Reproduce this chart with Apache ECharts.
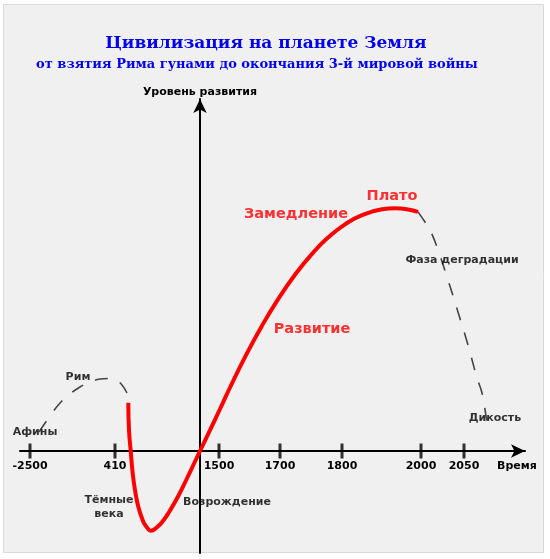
<!DOCTYPE html>
<html>
<head>
<meta charset="utf-8">
<script src="https://cdn.jsdelivr.net/npm/echarts@6/dist/echarts.min.js"></script>
<style>
html,body{margin:0;padding:0;background:#ffffff;}
#chart{width:550px;height:559px;}
</style>
</head>
<body>
<div id="chart"></div>
<script>
// Schematic time scale (abstract units, origin = Renaissance) and development level
const titleText = "Цивилизация на планете Земля";
const subtitleText = "от взятия Рима гунами до окончания 3-й мировой войны";
const xAxisName = "Время";
const yAxisName = "Уровень развития";

// Tick positions on the schematic time axis and their year labels
const tickPositions = [-170, -85, 19, 80, 142, 221, 264];
const tickLabels = ["-2500", "410", "1500", "1700", "1800", "2000", "2050"];

// Antiquity (dashed): Athens -> Rome
const antiquityCurve = [
  [-161, 19], [-150, 35], [-140, 48], [-130, 57], [-120, 64], [-110, 69],
  [-100, 72], [-92, 72.5], [-84, 71], [-78, 66], [-73, 58]
];

// Main (red) curve: Dark Ages -> Renaissance -> Development -> Plateau
const mainCurve = [
  [-71.7, 48.3], [-71, 21], [-69.3, 0.3], [-67.3, -22.3], [-65, -39],
  [-61.7, -55.7], [-56.7, -70.7], [-53, -76.5], [-49.3, -79.7], [-43.3, -76.5],
  [-36.7, -69.5], [-30, -59.5], [-21.7, -45], [-13.3, -28], [-5, -10.5],
  [0, 0], [10, 20.8], [20, 42], [30, 63.5], [45, 93.9], [62, 125.3], [78, 151.6],
  [95, 176.2], [112, 197.2], [128, 213.4], [145, 226.7], [162, 235.9], [182, 241.7],
  [195, 242.7], [208, 241.6], [218, 239.1]
];

// Degradation (dashed): Plateau -> Savagery
const degradationCurve = [
  [218, 239.1], [225, 229], [230, 221], [237, 204], [248, 171], [258, 139],
  [268, 106], [277, 73], [282, 58], [288, 21]
];

// Annotations [x, y, text]
const redNotes = [
  [112, 122, "Развитие"],
  [96, 237, "Замедление"],
  [192, 255, "Плато"]
];
const blackNotes = [
  [-165, 19, "Афины"],
  [-122, 74, "Рим"],
  [-91, -56, "Тёмные\nвека"],
  [27, -51, "Возрождение"],
  [262, 191, "Фаза деградации"],
  [295, 33, "Дикость"]
];

const labelMap = {};
tickPositions.forEach((p, i) => { labelMap[p] = tickLabels[i]; });

const chart = echarts.init(document.getElementById('chart'), null, {renderer: 'canvas'});
const boldSans = "DejaVu Sans";
const yMin = -102, yMax = 352;

chart.setOption({
  animation: false,
  backgroundColor: '#ffffff',
  graphic: [{
    type: 'rect', z: -10, silent: true,
    shape: {x: 3.5, y: 4.5, width: 540, height: 548},
    style: {fill: '#f0f0f0', stroke: '#d9d9d9', lineWidth: 1}
  }],
  title: [{
    text: titleText,
    left: 266, top: 35, textAlign: 'center', padding: 0,
    textStyle: {fontFamily: 'DejaVu Serif', fontWeight: 'bold', fontSize: 17, color: '#0000ee'}
  }, {
    text: subtitleText,
    left: 257, top: 58, textAlign: 'center', padding: 0,
    textStyle: {fontFamily: 'DejaVu Serif', fontWeight: 'bold', fontSize: 13, color: '#0000ee'}
  }],
  grid: {left: 20, right: 25, top: 99, bottom: 6, containLabel: false, outerBoundsMode: 'none'},
  xAxis: {
    type: 'value', min: -180, max: 325,
    position: 'bottom', offset: yMin,
    name: xAxisName, nameLocation: 'end', nameGap: -8,
    nameTextStyle: {fontFamily: boldSans, fontWeight: 'bold', fontSize: 11, color: '#000',
      align: 'center', verticalAlign: 'top', padding: [10, 0, 0, 0]},
    axisLine: {onZero: false, lineStyle: {color: '#000', width: 2}, symbol: ['none', 'arrow'], symbolSize: [10, 14]},
    axisTick: {show: false},
    splitLine: {show: false},
    axisLabel: {
      show: true, customValues: tickPositions, margin: 10,
      fontFamily: boldSans, fontWeight: 'bold', fontSize: 11, color: '#000',
      formatter: v => labelMap[v] || ''
    }
  },
  yAxis: {
    type: 'value', min: yMin, max: yMax,
    name: yAxisName, nameLocation: 'end', nameGap: 1,
    nameTextStyle: {fontFamily: boldSans, fontWeight: 'bold', fontSize: 11, color: '#000'},
    axisLine: {onZero: true, lineStyle: {color: '#000', width: 2}, symbol: ['none', 'arrow'], symbolSize: [10, 14]},
    axisTick: {show: false},
    axisLabel: {show: false},
    splitLine: {show: false}
  },
  series: [
    {
      type: 'scatter', name: 'ticks', silent: true,
      data: tickPositions.map(p => [p, 0]),
      symbol: 'rect', symbolSize: [3, 15],
      itemStyle: {color: '#000'}, z: 3
    },
    {
      type: 'line', name: 'antiquity', data: antiquityCurve, smooth: 0.4,
      showSymbol: false, lineStyle: {color: '#444', width: 1.6, type: [13, 13]}
    },
    {
      type: 'line', name: 'main', data: mainCurve, smooth: 0.5,
      showSymbol: false, lineStyle: {color: '#ff0000', width: 4}, z: 4
    },
    {
      type: 'line', name: 'degradation', data: degradationCurve, smooth: 0.4,
      showSymbol: false, lineStyle: {color: '#444', width: 1.6, type: [13, 13]}
    },
    {
      type: 'scatter', name: 'redNotes', data: redNotes, symbolSize: 0, silent: true, z: 6,
      itemStyle: {color: '#ff0000'},
      label: {show: true, position: 'inside', formatter: p => p.data[2],
        fontFamily: boldSans, fontWeight: 'bold', fontSize: 14.5, color: '#ff0000',
        textBorderWidth: 0, textBorderColor: 'transparent'}
    },
    {
      type: 'scatter', name: 'blackNotes', data: blackNotes, symbolSize: 0, silent: true, z: 6,
      itemStyle: {color: '#000'},
      label: {show: true, position: 'inside', formatter: p => p.data[2],
        fontFamily: boldSans, fontWeight: 'bold', fontSize: 11, color: '#000', lineHeight: 14,
        textBorderWidth: 0, textBorderColor: 'transparent'}
    }
  ]
});
</script>
</body>
</html>
